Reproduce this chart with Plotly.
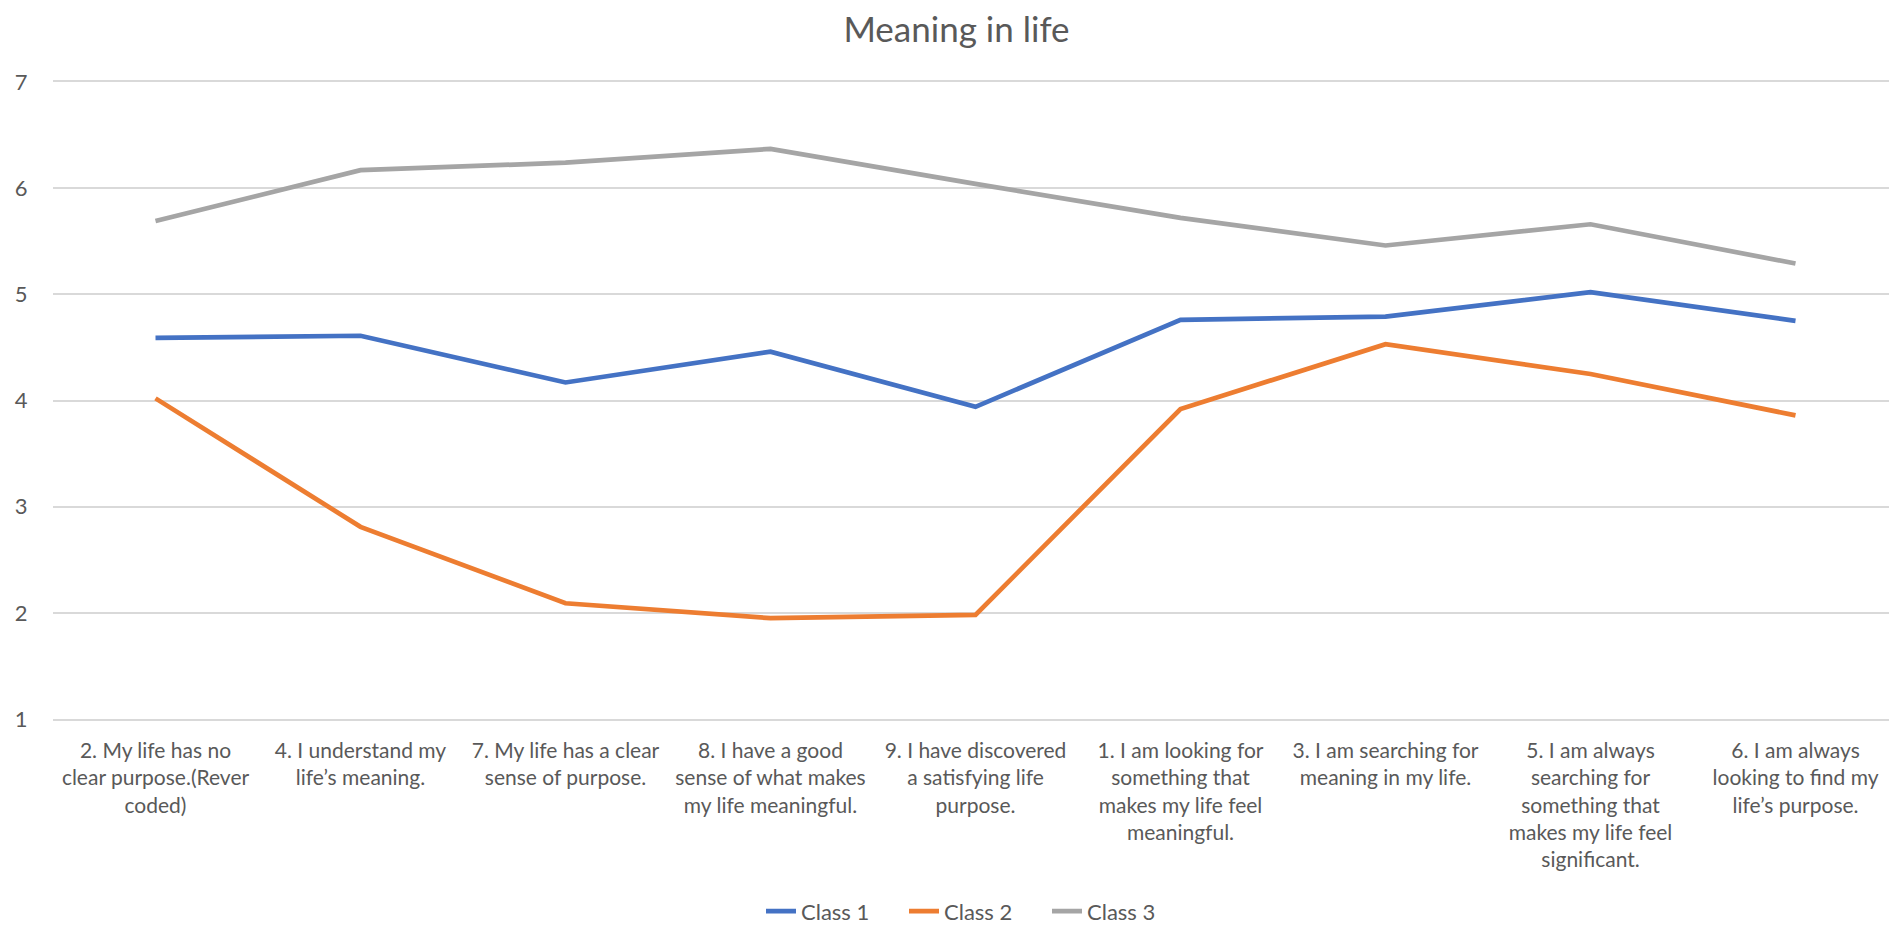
import plotly.graph_objects as go

# item labels, in the order shown on the chart
items = [
    "2. My life has no<br>clear purpose.(Rever<br>coded)",
    "4. I understand my<br>life’s meaning.",
    "7. My life has a clear<br>sense of purpose.",
    "8. I have a good<br>sense of what makes<br>my life meaningful.",
    "9. I have discovered<br>a satisfying life<br>purpose.",
    "1. I am looking for<br>something that<br>makes my life feel<br>meaningful.",
    "3. I am searching for<br>meaning in my life.",
    "5. I am always<br>searching for<br>something that<br>makes my life feel<br>significant.",
    "6. I am always<br>looking to find my<br>life’s purpose.",
]

class_1 = [4.59, 4.61, 4.17, 4.46, 3.94, 4.76, 4.79, 5.02, 4.75]
class_2 = [4.02, 2.81, 2.09, 1.95, 1.98, 3.92, 4.53, 4.25, 3.86]
class_3 = [5.69, 6.17, 6.24, 6.37, 6.04, 5.72, 5.46, 5.66, 5.29]

series = [("Class 1", class_1, "#4472C4"),
          ("Class 2", class_2, "#ED7D31"),
          ("Class 3", class_3, "#A5A5A5")]

fig = go.Figure()
for name, vals, col in series:
    fig.add_trace(go.Scatter(x=items, y=vals, name=name, mode="lines",
                             line=dict(color=col, width=4.7)))

txt = "#595959"
grid = "#D9D9D9"
fig.update_layout(
    width=1897, height=932,
    paper_bgcolor="white", plot_bgcolor="white",
    font=dict(family="Lato", size=21, color=txt),
    title=dict(text="Meaning in life", x=0.5, xanchor="center",
               y=0.977, yanchor="middle", font=dict(size=35, color=txt)),
    margin=dict(l=41, r=7, t=74, b=212),
    legend=dict(orientation="h", x=0.5, xanchor="center", y=-0.302,
                yanchor="middle", font=dict(size=22, color=txt),
                entrywidth=98, entrywidthmode="pixels"),
    showlegend=True,
)
# categories sit in the middle of their slots, like Excel
fig.update_xaxes(range=[-0.5, len(items) - 0.5], showgrid=False,
                 showline=True, mirror=True, linecolor=grid, linewidth=1.5,
                 ticks="outside", ticklen=12, tickcolor="white",
                 tickfont=dict(size=21))
fig.update_yaxes(range=[1, 7], dtick=1, showgrid=True, gridcolor=grid,
                 gridwidth=1.5, zeroline=False, ticks="outside", ticklen=20,
                 tickcolor="white", tickfont=dict(size=22))

fig.write_html("out.html")
